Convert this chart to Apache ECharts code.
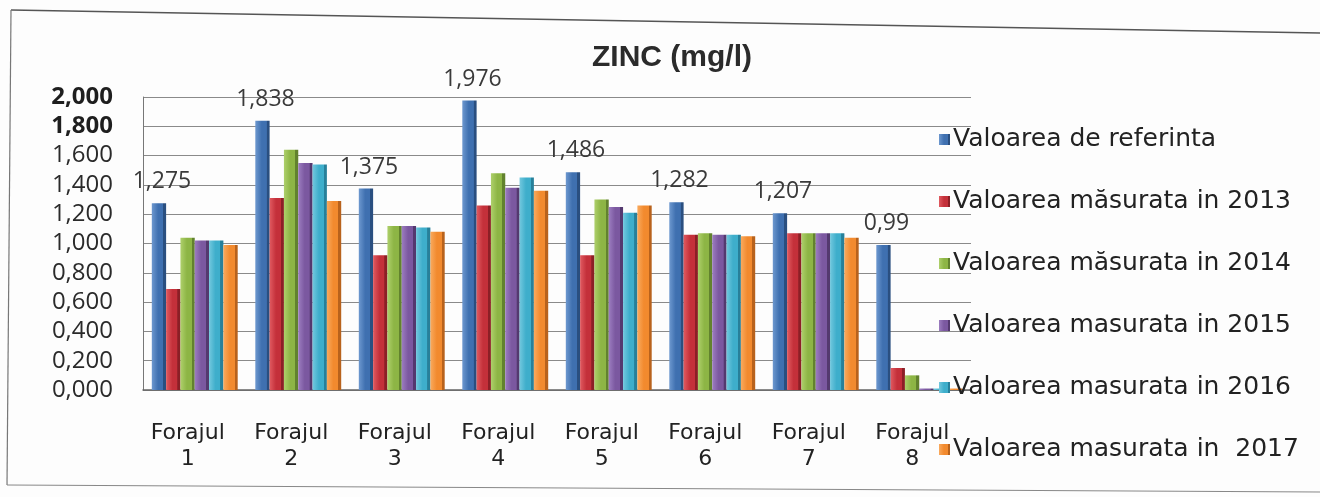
<!DOCTYPE html>
<html>
<head>
<meta charset="utf-8">
<script src="https://cdn.jsdelivr.net/npm/echarts@6/dist/echarts.min.js"></script>
<style>
  html, body { margin: 0; padding: 0; background: #fdfdfd; }
  #chart { width: 1320px; height: 497px; }
</style>
</head>
<body>
<div id="chart"></div>
<script>
// Zinc concentration per borehole (mg/l)
const categories = ['Forajul\n1', 'Forajul\n2', 'Forajul\n3', 'Forajul\n4', 'Forajul\n5', 'Forajul\n6', 'Forajul\n7', 'Forajul\n8'];
const seriesNames = [
  'Valoarea de referinta',
  'Valoarea măsurata in 2013',
  'Valoarea măsurata in 2014',
  'Valoarea masurata in 2015',
  'Valoarea masurata in 2016',
  'Valoarea masurata in  2017'
];
const refValues = [1.275, 1.838, 1.375, 1.976, 1.486, 1.282, 1.207, 0.99];
const val2013 = [0.69, 1.31, 0.92, 1.26, 0.92, 1.06, 1.07, 0.15];
const val2014 = [1.04, 1.64, 1.12, 1.48, 1.30, 1.07, 1.07, 0.10];
const val2015 = [1.02, 1.55, 1.12, 1.38, 1.25, 1.06, 1.07, 0.01];
const val2016 = [1.02, 1.54, 1.11, 1.45, 1.21, 1.06, 1.07, 0.01];
const val2017 = [0.99, 1.29, 1.08, 1.36, 1.26, 1.05, 1.04, 0.01];
const yTicks = { min: 0, max: 2, interval: 0.2 };

const allValues = [refValues, val2013, val2014, val2015, val2016, val2017];
const colors = ['#3f70b0', '#c4303a', '#8db545', '#7b58a0', '#3eaecb', '#f28a2e'];
const darker = ['#2a4f80', '#8c1f26', '#62822e', '#54396f', '#27809a', '#b8621c'];
const lighter = ['#6d98cf', '#e05a60', '#aed06b', '#9c7dc0', '#72c8de', '#f9aa5e'];

const comma = v => String(v).replace('.', ',');

const series = allValues.map((data, i) => ({
  name: seriesNames[i],
  type: 'bar',
  data: data,
  barGap: '0%',
  barCategoryGap: '17%',
  itemStyle: {
    color: new echarts.graphic.LinearGradient(0, 0, 1, 0, [
      { offset: 0, color: lighter[i] },
      { offset: 0.45, color: colors[i] },
      { offset: 0.78, color: colors[i] },
      { offset: 0.8, color: darker[i] },
      { offset: 1, color: darker[i] }
    ])
  },
  label: i === 0 ? {
    show: true,
    position: 'top',
    offset: [3, -5],
    formatter: p => comma(p.value),
    fontFamily: 'Open Sans, Liberation Sans, sans-serif',
    fontSize: 23,
    color: '#3a3a3a'
  } : { show: false }
}));

const chart = echarts.init(document.getElementById('chart'), null, { renderer: 'canvas' });
chart.setOption({
  animation: false,
  backgroundColor: '#fdfdfd',
  color: colors,
  title: {
    text: 'ZINC (mg/l)',
    left: 667,
    top: 38,
    textAlign: 'center',
    textStyle: { fontFamily: 'Liberation Sans, Arial, sans-serif', fontWeight: 'bold', fontSize: 30, color: '#2b2b2b' }
  },
  legend: {
    orient: 'vertical',
    left: 934,
    top: 122,
    itemGap: 37,
    itemWidth: 11,
    itemHeight: 11,
    icon: 'rect',
    textStyle: { fontFamily: 'DejaVu Sans, sans-serif', fontSize: 25, color: '#222', padding: [0, 0, 0, -2] },
    data: seriesNames
  },
  grid: { left: 143, right: 349, top: 97, bottom: 107 },
  xAxis: {
    type: 'category',
    data: categories,
    axisLine: { lineStyle: { color: '#666', width: 1.5 } },
    axisTick: { show: false },
    axisLabel: {
      interval: 0,
      margin: 30,
      lineHeight: 26,
      padding: [0, 14, 0, 0],
      fontFamily: 'DejaVu Sans, sans-serif',
      fontSize: 22,
      color: '#222'
    }
  },
  yAxis: {
    type: 'value',
    min: yTicks.min,
    max: yTicks.max,
    interval: yTicks.interval,
    axisLine: { show: true, lineStyle: { color: '#777' } },
    axisTick: { show: false },
    splitLine: { lineStyle: { color: '#8a8a8a', width: 1.2 } },
    axisLabel: {
      margin: 30,
      formatter: v => {
        const t = v.toFixed(3).replace('.', ',');
        return v >= 1.8 ? '{b|' + t + '}' : t;
      },
      fontFamily: 'Open Sans, Liberation Sans, sans-serif',
      fontSize: 24,
      color: '#2a2a2a',
      rich: {
        b: { fontFamily: 'Open Sans, Liberation Sans, sans-serif', fontSize: 24, fontWeight: 'bold', color: '#1e1e1e' }
      }
    }
  },
  graphic: [
    { type: 'line', shape: { x1: 11, y1: 10, x2: 1320, y2: 33 }, style: { stroke: '#555', lineWidth: 1.5 } },
    { type: 'line', shape: { x1: 11, y1: 10, x2: 7, y2: 485 }, style: { stroke: '#777', lineWidth: 1.2 } },
    { type: 'line', shape: { x1: 7, y1: 485, x2: 1320, y2: 492 }, style: { stroke: '#888', lineWidth: 1.2 } }
  ],
  series: series
});
</script>
</body>
</html>
